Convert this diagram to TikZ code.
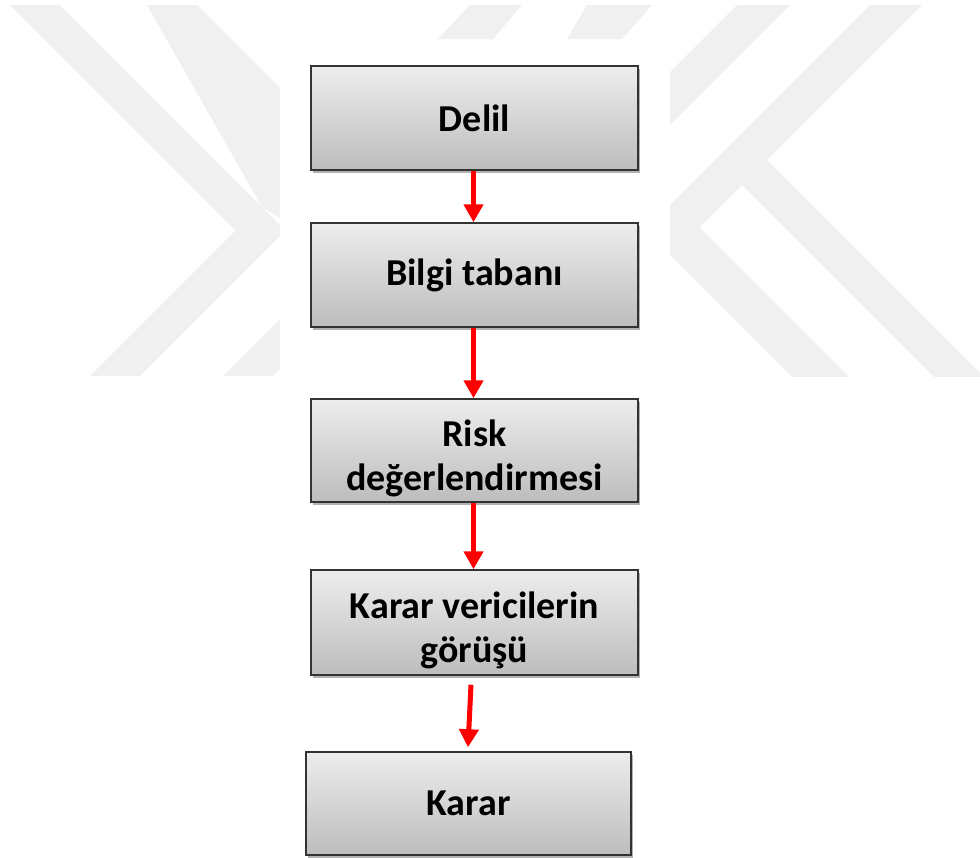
\documentclass[tikz,border=0pt]{standalone}
\usepackage{fontspec}
\setmainfont{Carlito}
\usetikzlibrary{arrows.meta,shadows}
\newcommand{\lowertwo}[2]{\raisebox{-9pt}[\height][\depth]{\begin{tabular}{@{}c@{}}#1\\#2\end{tabular}}}
\begin{document}
\begin{tikzpicture}[x=1pt,y=-1pt,
  wm/.style={fill=black!6,draw=none},
  box/.style={rectangle, draw=black!80, line width=1.5pt, top color=black!7, bottom color=black!26,
    minimum width=327pt, minimum height=104pt, align=center, inner sep=0pt,
    font=\fontsize{38pt}{44pt}\selectfont\bfseries,
    drop shadow={shadow xshift=2pt,shadow yshift=-3pt,opacity=0.3,fill=black}},
  arr/.style={draw=red, line width=5pt, -{Triangle[width=19pt,length=18pt]}}]
\useasboundingbox (0,0) rectangle (980,857);
\fill[white] (0,0) rectangle (980,857);
% watermark, left part
\begin{scope}
\clip (0,5) rectangle (280,376);
\fill[wm] (10,5) -- (60,5) -- (285.5,230.5) -- (140,376) -- (90,376) -- (235.5,230.5) -- cycle;
\fill[wm] (147,5) -- (197,5) -- (300,108) -- (300,230) -- (262,207) -- cycle;
\fill[wm] (223,376) -- (273,376) -- (350,299) -- (300,299) -- cycle;
\end{scope}
% watermark, top middle
\begin{scope}
\clip (280,5) rectangle (670,39);
\fill[wm] (470,5) -- (522,5) -- (493,39) -- (438,39) -- cycle;
\fill[wm] (587,5) -- (652,5) -- (622,39) -- (567,39) -- cycle;
\end{scope}
% watermark, right part
\begin{scope}
\clip (670,5) rectangle (980,376);
\fill[wm] (737,5) -- (790,5) -- (640,155) -- (587,155) -- cycle;
\fill[wm] (870,5) -- (922,5) -- (600,327) -- (548,327) -- cycle;
\fill[wm] (730,173) -- (755,148) -- (1000,393) -- (950,393) -- cycle;
\fill[wm] (658,243) -- (686,214) -- (870,398) -- (813,398) -- cycle;
\end{scope}
% boxes
\node[box] (delil) at (474.5,118) {Delil};
\node[box] (bilgi) at (474.5,275) {Bilgi tabanı};
\node[box, minimum height=103pt] (risk) at (474.5,450.5) {\lowertwo{Risk}{değerlendirmesi}};
\node[box, minimum height=105pt] (kv) at (474.5,622.5) {\lowertwo{Karar vericilerin}{görüşü}};
\node[box, minimum width=325pt, minimum height=103pt] (karar) at (468.5,803.5) {Karar};
% arrows
\draw[arr] ([xshift=-1pt]delil.south) -- ([xshift=-1pt]bilgi.north);
\draw[arr] ([xshift=-1pt]bilgi.south) -- ([xshift=-1pt]risk.north);
\draw[arr] ([xshift=-1pt]risk.south) -- ([xshift=-1pt]kv.north);
\draw[arr] ([shift={(-3.5,9)}]kv.south) -- ([shift={(-0.5,-4)}]karar.north);
\end{tikzpicture}
\end{document}
